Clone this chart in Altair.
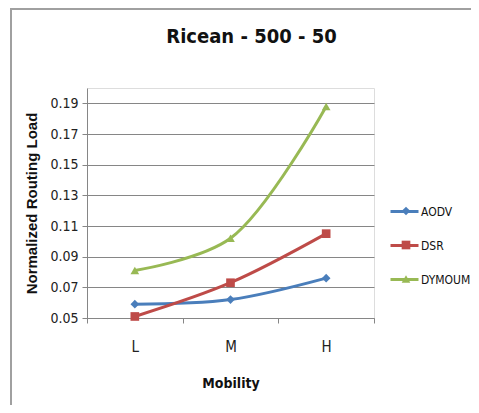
import altair as alt
import pandas as pd

categories = ["L", "M", "H"]
series_names = ["AODV", "DSR", "DYMOUM"]
aodv = [0.059, 0.062, 0.076]
dsr = [0.051, 0.073, 0.105]
dymoum = [0.081, 0.102, 0.188]
y_ticks = [0.05, 0.07, 0.09, 0.11, 0.13, 0.15, 0.17, 0.19]
colors = ["#4A7EBB", "#BE4B48", "#98B954"]
shapes = ["diamond", "square", "triangle-up"]

rows = []
for name, vals in zip(series_names, [aodv, dsr, dymoum]):
    for c, v in zip(categories, vals):
        rows.append({"Mobility": c, "Series": name, "Series2": name, "Value": v})
df = pd.DataFrame(rows)

FONT = "DejaVu Sans Condensed, Liberation Sans Narrow, Open Sans, sans-serif"

x = alt.X("Mobility:N", sort=categories,
          scale=alt.Scale(paddingInner=0, paddingOuter=0),
          axis=alt.Axis(title="Mobility", labelAngle=0, tickBand="extent",
                        labelPadding=16, titlePadding=22, grid=False,
                        domainColor="#868686", tickColor="#868686", tickSize=5,
                        labelFontSize=15, titleFontSize=14, titleFontWeight="bold",
                        labelFont=FONT, titleFont=FONT, labelColor="#222", titleColor="#111"))
y = alt.Y("Value:Q", scale=alt.Scale(domain=[0.05, 0.20], nice=False, zero=False),
          axis=alt.Axis(title="Normalized Routing Load", values=y_ticks, format=".2f",
                        grid=True, gridColor="#868686", domainColor="#868686",
                        tickColor="#868686", tickSize=5, labelPadding=4,
                        labelFontSize=14, titleFontSize=15, titleFontWeight="bold",
                        titlePadding=10, labelFont=FONT, titleFont="Liberation Sans, Arial, sans-serif",
                        labelColor="#222", titleColor="#111"))

lines = alt.Chart(df).mark_line(strokeWidth=3, interpolate="catmull-rom").encode(
    x=x, y=y,
    color=alt.Color("Series:N", sort=series_names,
                    scale=alt.Scale(domain=series_names, range=colors),
                    legend=alt.Legend(title=None, orient="none", legendX=302, legendY=108,
                                      symbolType="stroke", symbolSize=784, symbolStrokeWidth=3,
                                      rowPadding=12, labelFontSize=12, labelFont=FONT,
                                      labelOffset=1, labelColor="#111")),
)

points = alt.Chart(df).mark_point(filled=True, size=75, opacity=1).encode(
    x=x, y=y,
    fill=alt.Fill("Series2:N", sort=series_names,
                  scale=alt.Scale(domain=series_names, range=colors),
                  legend=alt.Legend(title=None, orient="none", legendX=312, legendY=116,
                                    rowPadding=20, labelOpacity=0, labelFontSize=14,
                                    symbolSize=75, symbolStrokeWidth=0)),
    shape=alt.Shape("Series2:N", sort=series_names,
                    scale=alt.Scale(domain=series_names, range=shapes),
                    legend=alt.Legend(title=None, orient="none", legendX=312, legendY=116,
                                      rowPadding=20, labelOpacity=0, labelFontSize=14,
                                      symbolSize=75, symbolStrokeWidth=0)),
)

border_left = alt.Chart(df).mark_rule(color="#a0a0a0", strokeWidth=2).encode(
    x=alt.value(-76), y=alt.value(-80), y2=alt.value(330))
border_top = alt.Chart(df).mark_rule(color="#a0a0a0", strokeWidth=2).encode(
    x=alt.value(-77), x2=alt.value(420), y=alt.value(-79.5))

chart = alt.layer(border_left, border_top, lines, points).resolve_scale(
    color="independent", fill="independent", shape="independent"
).properties(
    width=287, height=230,
    title=alt.TitleParams("Ricean - 500 - 50", fontSize=20, font=FONT, fontWeight="bold",
                          anchor="middle", frame="group", dx=21, offset=-40, color="#111"),
    padding={"left": 79, "top": 80, "right": 97, "bottom": 87},
    autosize=alt.AutoSizeParams(type="none"),
).configure_view(stroke=None).configure(background="white")

chart.save("out.html", embed_options={"renderer": "svg", "actions": False})
